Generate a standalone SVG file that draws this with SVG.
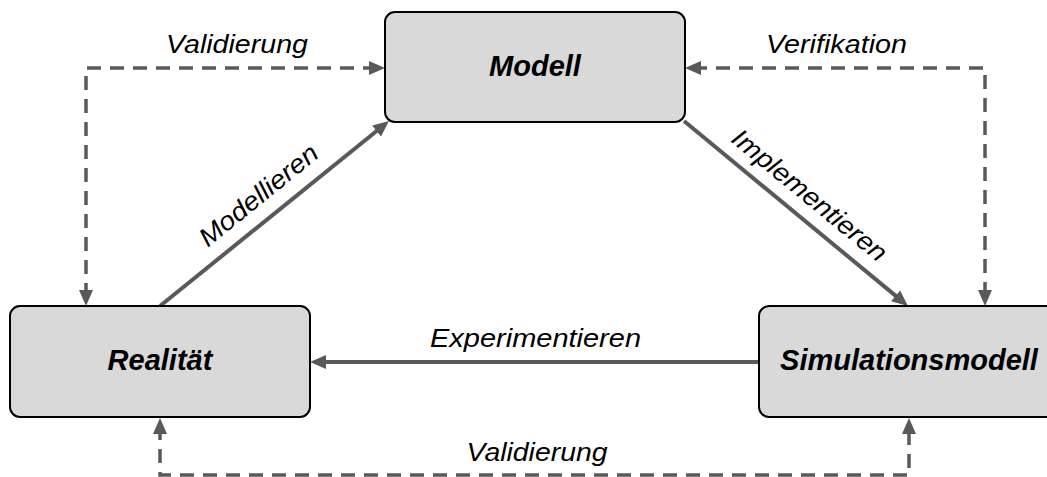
<svg xmlns="http://www.w3.org/2000/svg" width="1047" height="477" viewBox="0 0 1047 477">
<style>
.box{fill:#d9d9d9;stroke:#000;stroke-width:2}
.nt{font-family:"Liberation Sans",Arial,sans-serif;font-size:29px;font-weight:bold;font-style:italic;fill:#000;text-anchor:middle}
.lbl{font-family:"Liberation Sans",Arial,sans-serif;font-size:26px;font-style:italic;fill:#000;text-anchor:middle}
.solid{fill:none;stroke:#595959;stroke-width:4;marker-end:url(#ah)}
.dash{fill:none;stroke:#595959;stroke-width:3.5;stroke-dasharray:14 9;marker-start:url(#ah);marker-end:url(#ah)}
</style>
<defs>
<marker id="ah" markerUnits="userSpaceOnUse" markerWidth="17" markerHeight="15" refX="8" refY="7" orient="auto-start-reverse" viewBox="0 0 17 15" overflow="visible">
<path d="M0,0 L16,7 L0,14 z" fill="#595959"/>
</marker>
</defs>
<rect width="1047" height="477" fill="#fff"/>
<g id="connectors">
<path class="dash" d="M377,68 H86 V298"/>
<path class="dash" d="M693,68 H985 V298"/>
<path class="dash" d="M160,426 V475 H909 V426"/>
<path class="solid" d="M160,306 L382.8,126"/>
<path class="solid" d="M684,121 L901.8,300.9"/>
<path class="solid" d="M759,362 H318"/>
<text class="lbl" x="237" y="53" textLength="142" lengthAdjust="spacingAndGlyphs">Validierung</text>
<text class="lbl" x="836.5" y="53" textLength="141" lengthAdjust="spacingAndGlyphs">Verifikation</text>
<text class="lbl" x="535.5" y="347" textLength="211" lengthAdjust="spacingAndGlyphs">Experimentieren</text>
<text class="lbl" x="537" y="461" textLength="141" lengthAdjust="spacingAndGlyphs">Validierung</text>
<text class="lbl" transform="translate(264,202) rotate(-39.1)" textLength="145" lengthAdjust="spacingAndGlyphs">Modellieren</text>
<text class="lbl" transform="translate(804,202) rotate(39.4)" textLength="192" lengthAdjust="spacingAndGlyphs">Implementieren</text>
</g>
<g id="modell">
<rect class="box" x="385" y="12" width="300" height="110" rx="10"/>
<text class="nt" x="535" y="76">Modell</text>
</g>
<g id="realitaet">
<rect class="box" x="10" y="306" width="300" height="111" rx="10"/>
<text class="nt" x="160" y="370">Realität</text>
</g>
<g id="simulationsmodell">
<rect class="box" x="759" y="306" width="300" height="111" rx="10"/>
<text class="nt" x="909" y="370">Simulationsmodell</text>
</g>
</svg>
